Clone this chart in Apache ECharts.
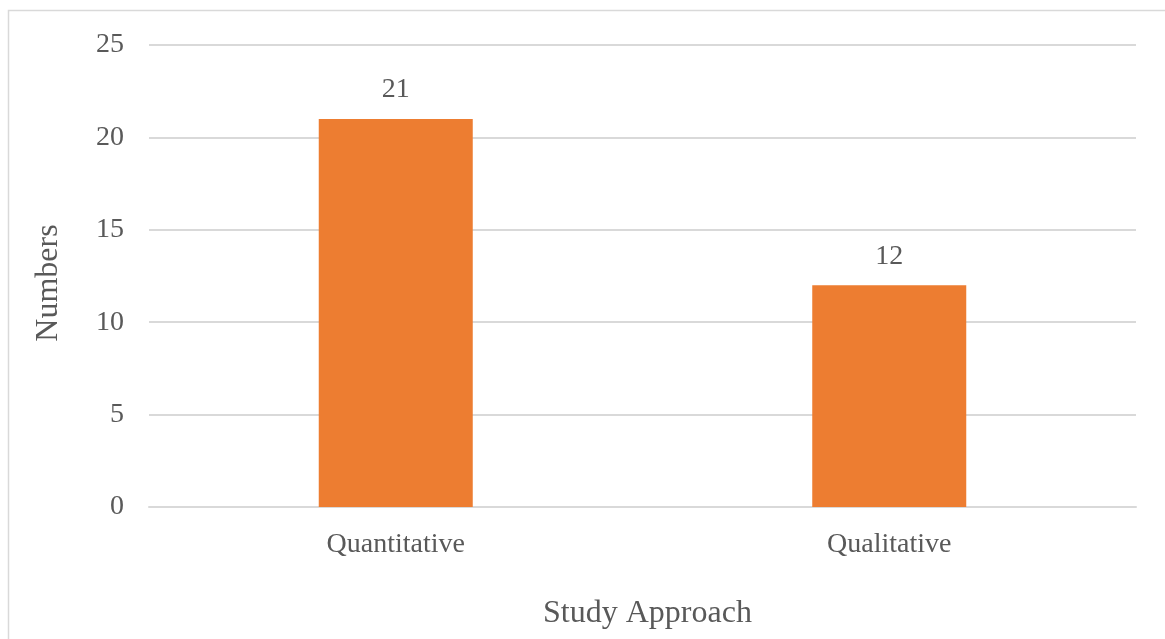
<!DOCTYPE html>
<html>
<head>
<meta charset="utf-8">
<title>Study Approach</title>
<script src="https://cdn.jsdelivr.net/npm/echarts@6/dist/echarts.min.js"></script>
<style>
  html, body { margin: 0; padding: 0; background: #ffffff; }
  #chart { width: 1165px; height: 639px; }
</style>
</head>
<body>
<div id="chart"></div>
<script>
// Number of studies per approach
const categories = ['Quantitative', 'Qualitative'];
const counts = [21, 12];
const yTicks = { min: 0, max: 25, interval: 5 };

const textColor = '#595959';
const gridColor = '#d9d9d9';
const serif = '"Liberation Serif", "Times New Roman", serif';

const chart = echarts.init(document.getElementById('chart'), null, { renderer: 'canvas' });

chart.setOption({
  backgroundColor: '#ffffff',
  animation: false,
  graphic: [{
    type: 'rect',
    silent: true,
    z: -1,
    shape: { x: 8.5, y: 10.5, width: 1300, height: 800 },
    style: { fill: 'none', stroke: gridColor, lineWidth: 1.5 }
  }],
  grid: { left: 149, right: 29, top: 45, bottom: 132, containLabel: false },
  xAxis: {
    type: 'category',
    data: categories,
    name: 'Study Approach',
    nameLocation: 'middle',
    nameGap: 91,
    nameTextStyle: { fontFamily: serif, fontSize: 32, color: textColor, padding: [0, 0, 0, 10] },
    axisLine: { show: true, lineStyle: { color: gridColor, width: 2 } },
    axisTick: { show: false },
    axisLabel: { fontFamily: serif, fontSize: 28, color: textColor, margin: 24 }
  },
  yAxis: {
    type: 'value',
    min: yTicks.min,
    max: yTicks.max,
    interval: yTicks.interval,
    name: 'Numbers',
    nameLocation: 'middle',
    nameGap: 84,
    nameRotate: 90,
    nameTextStyle: { fontFamily: serif, fontSize: 32, color: textColor, padding: [0, 14, 0, 0] },
    axisLine: { show: false },
    axisTick: { show: false },
    axisLabel: { fontFamily: serif, fontSize: 28, color: textColor, margin: 25, padding: [3, 0, 0, 0] },
    splitLine: { lineStyle: { color: gridColor, width: 2 } }
  },
  series: [{
    type: 'bar',
    data: counts,
    barWidth: 154,
    itemStyle: { color: '#ED7D31' },
    label: {
      show: true,
      position: 'top',
      distance: 15,
      fontFamily: serif,
      fontSize: 28,
      color: textColor
    }
  }]
});
</script>
</body>
</html>
